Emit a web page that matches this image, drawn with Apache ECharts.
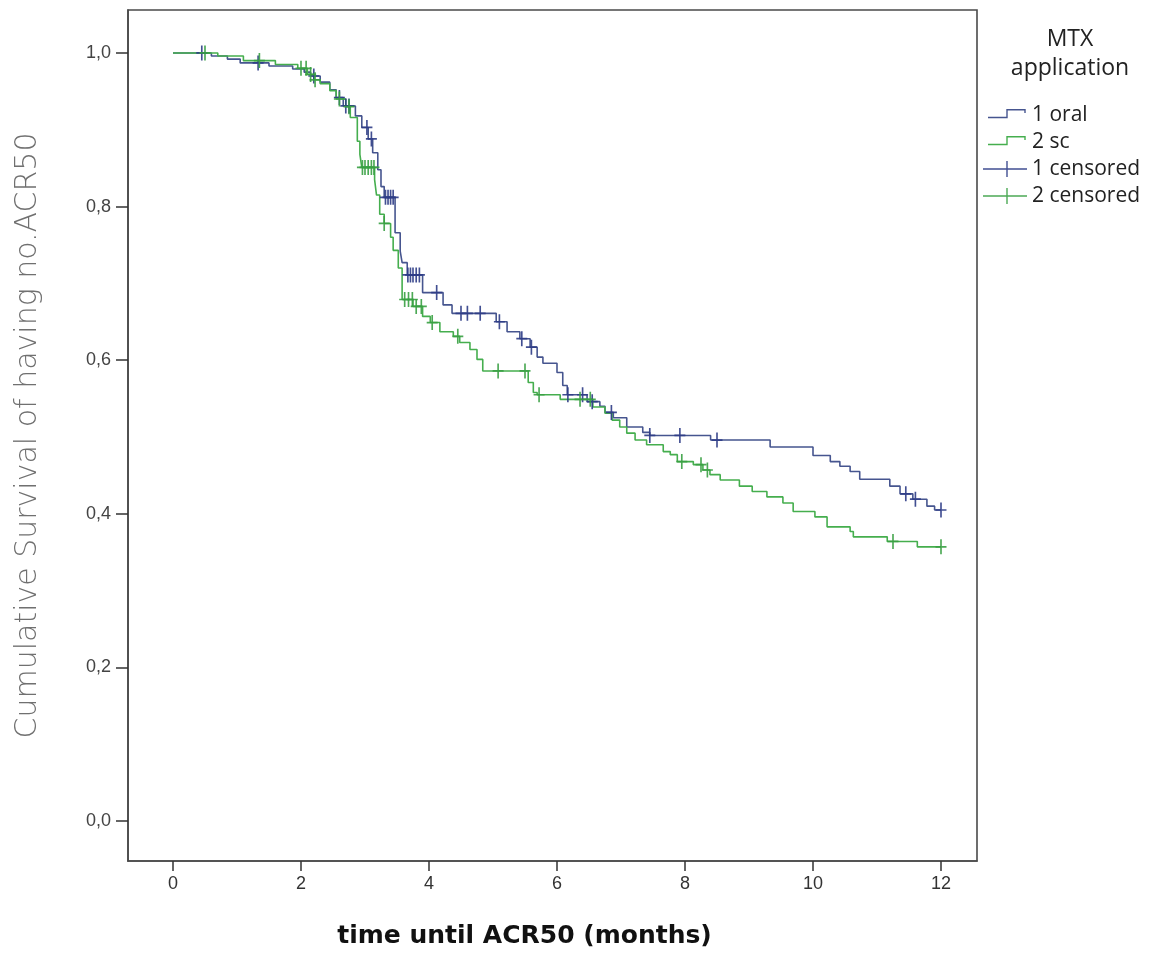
<!DOCTYPE html>
<html>
<head>
<meta charset="utf-8">
<script src="https://cdn.jsdelivr.net/npm/echarts@6/dist/echarts.min.js"></script>
<style>
html,body{margin:0;padding:0;background:#fff;}
#chart{width:1152px;height:956px;}
</style>
</head>
<body>
<div id="chart"></div>
<script>
// ---- Data ----
const xTicks = [0, 2, 4, 6, 8, 10, 12];
const yTicks = [0, 0.2, 0.4, 0.6, 0.8, 1.0];

// 1 oral: event times (months) and survival after each step
const oralTime = [0, 0.6, 0.85, 1.05, 1.5, 1.87, 2.05, 2.15, 2.3, 2.45, 2.55, 2.66, 2.85, 2.95, 3.05, 3.12, 3.2, 3.25, 3.3, 3.47, 3.55, 3.58, 3.66, 3.9, 4.22, 4.36, 5.05, 5.22, 5.42, 5.58, 5.69, 5.78, 6.0, 6.09, 6.16, 6.47, 6.67, 6.75, 6.88, 7.09, 7.34, 7.45, 8.4, 9.33, 10.0, 10.27, 10.42, 10.58, 10.73, 11.2, 11.36, 11.56, 11.78, 11.9];
const oralSurv = [1.0, 0.996, 0.992, 0.987, 0.983, 0.979, 0.975, 0.970, 0.962, 0.952, 0.942, 0.931, 0.918, 0.903, 0.888, 0.870, 0.848, 0.826, 0.812, 0.766, 0.742, 0.727, 0.711, 0.688, 0.672, 0.661, 0.650, 0.637, 0.628, 0.617, 0.604, 0.596, 0.584, 0.567, 0.555, 0.546, 0.540, 0.532, 0.525, 0.513, 0.506, 0.502, 0.496, 0.487, 0.476, 0.468, 0.462, 0.455, 0.445, 0.436, 0.426, 0.419, 0.410, 0.405];
const oralCensored = [0.45, 1.33, 2.2, 2.6, 2.7, 2.75, 3.03, 3.1, 3.32, 3.36, 3.4, 3.44, 3.67, 3.71, 3.75, 3.8, 3.85, 4.12, 4.5, 4.6, 4.8, 5.1, 5.45, 5.6, 6.17, 6.4, 6.55, 6.85, 7.45, 7.92, 8.5, 11.45, 11.6, 12.0];

// 2 sc
const scTime = [0, 0.7, 1.1, 1.6, 1.95, 2.1, 2.2, 2.3, 2.45, 2.55, 2.7, 2.77, 2.88, 2.92, 2.95, 3.15, 3.18, 3.23, 3.3, 3.4, 3.44, 3.52, 3.58, 3.75, 3.9, 4.02, 4.17, 4.38, 4.48, 4.64, 4.75, 4.84, 5.55, 5.63, 5.69, 6.05, 6.56, 6.75, 6.86, 6.98, 7.09, 7.22, 7.4, 7.66, 7.77, 7.88, 8.13, 8.28, 8.39, 8.55, 8.85, 9.05, 9.28, 9.53, 9.69, 10.03, 10.22, 10.58, 10.63, 11.16, 11.63];
const scSurv = [1.0, 0.996, 0.990, 0.985, 0.980, 0.972, 0.965, 0.960, 0.951, 0.940, 0.930, 0.916, 0.885, 0.868, 0.851, 0.835, 0.815, 0.790, 0.778, 0.760, 0.743, 0.720, 0.679, 0.670, 0.657, 0.649, 0.637, 0.631, 0.623, 0.614, 0.601, 0.586, 0.571, 0.558, 0.555, 0.549, 0.539, 0.531, 0.522, 0.513, 0.505, 0.496, 0.490, 0.481, 0.477, 0.468, 0.464, 0.457, 0.451, 0.444, 0.436, 0.429, 0.422, 0.414, 0.403, 0.396, 0.383, 0.377, 0.370, 0.364, 0.357];
const scCensored = [0.5, 1.35, 2.0, 2.08, 2.15, 2.22, 2.6, 2.75, 2.96, 3.0, 3.05, 3.1, 3.14, 3.3, 3.62, 3.68, 3.74, 3.8, 3.88, 4.05, 4.45, 5.08, 5.5, 5.72, 6.36, 6.52, 7.95, 8.25, 8.35, 11.25, 12.0];

const xMax = 12;

// ---- helpers ----
function stepData(T, S) {
  const d = T.map((t, i) => [t, S[i]]);
  d.push([xMax, S[S.length - 1]]);
  return d;
}
function survAt(T, S, t) {
  let s = S[0];
  for (let i = 0; i < T.length; i++) { if (T[i] <= t) s = S[i]; }
  return s;
}
function censData(C, T, S) {
  return C.map(t => [t, survAt(T, S, t)]);
}

const blueLine = '#46558f';
const blueMark = '#2d3c86';
const greenLine = '#45ae4e';
const greenMark = '#38a043';

const crossSym = 'path://M5.1,0L6.9,0L6.9,16L5.1,16Z M0,7.1L12,7.1L12,8.9L0,8.9Z';
const stepIcon = 'path://M0,0L0.01,0L0,0.01Z M44,16L43.99,16L44,15.99Z ' +
  'M5,9.8L24.7,9.8L24.7,11.2L5,11.2Z M23.3,2L24.7,2L24.7,11.2L23.3,11.2Z ' +
  'M23.3,2L42.7,2L42.7,3.4L23.3,3.4Z M41.3,2L42.7,2L42.7,6L41.3,6Z';
const censIcon = 'path://M0,7.3L44,7.3L44,8.7L0,8.7Z M23.3,0L24.7,0L24.7,16L23.3,16Z';

const chart = echarts.init(document.getElementById('chart'), null, {renderer: 'canvas'});

const option = {
  backgroundColor: '#fff',
  animation: false,
  title: {
    text: 'MTX\napplication',
    left: 1065,
    top: 20,
    textAlign: 'center',
    textStyle: {fontFamily: 'Open Sans', fontSize: 23, fontWeight: 'normal', color: '#222', lineHeight: 29}
  },
  legend: {
    orient: 'vertical',
    left: 978,
    top: 99,
    itemWidth: 44,
    itemHeight: 16,
    itemGap: 5,
    itemStyle: {borderWidth: 0},
    textStyle: {fontFamily: 'Open Sans', fontSize: 21, color: '#222', lineHeight: 22, padding: [0, 0, 0, 0]},
    data: [
      {name: '1 oral', icon: stepIcon},
      {name: '2 sc', icon: stepIcon},
      {name: '1 censored', icon: censIcon},
      {name: '2 censored', icon: censIcon}
    ]
  },
  grid: {
    left: 128, right: 175, top: 10, bottom: 94,
    show: true, borderColor: '#4a4a4a', borderWidth: 1.6, backgroundColor: 'transparent'
  },
  xAxis: {
    type: 'value',
    min: -0.703, max: 12.5625,
    axisLine: {show: true, onZero: false, lineStyle: {color: '#4a4a4a', width: 1.6}},
    splitLine: {show: false},
    axisTick: {show: true, length: 10, customValues: xTicks, lineStyle: {color: '#333', width: 1.5}},
    axisLabel: {customValues: xTicks, margin: 14, fontFamily: 'Liberation Sans', fontSize: 18, color: '#333'},
    name: 'time until ACR50 (months)',
    nameLocation: 'middle',
    nameGap: 60,
    nameTextStyle: {fontFamily: 'DejaVu Sans', fontWeight: 'bold', fontSize: 25, color: '#111', lineHeight: 30, padding: [0, 56, 0, 0]}
  },
  yAxis: {
    type: 'value',
    min: -0.052, max: 1.0559,
    axisLine: {show: true, onZero: false, lineStyle: {color: '#4a4a4a', width: 1.6}},
    splitLine: {show: false},
    axisTick: {show: true, length: 12, customValues: yTicks, lineStyle: {color: '#333', width: 1.5}},
    axisLabel: {customValues: yTicks, margin: 17, fontFamily: 'Liberation Sans', fontSize: 18, color: '#444',
      formatter: v => v.toFixed(1).replace('.', ',')},
    name: 'Cumulative Survival of having no.ACR50',
    nameLocation: 'middle',
    nameGap: 84,
    nameTextStyle: {fontFamily: 'DejaVu Sans', fontWeight: 200, fontSize: 30, color: '#707070', lineHeight: 32}
  },
  series: [
    {
      name: '1 oral', type: 'line', step: 'end', symbol: 'none', showSymbol: false,
      data: stepData(oralTime, oralSurv),
      lineStyle: {color: blueLine, width: 1.6},
      itemStyle: {color: blueLine},
      z: 2
    },
    {
      name: '2 sc', type: 'line', step: 'end', symbol: 'none', showSymbol: false,
      data: stepData(scTime, scSurv),
      lineStyle: {color: greenLine, width: 1.6},
      itemStyle: {color: greenLine},
      z: 3
    },
    {
      name: '1 censored', type: 'scatter',
      data: censData(oralCensored, oralTime, oralSurv),
      symbol: crossSym, symbolSize: [11, 15],
      itemStyle: {color: blueMark, opacity: 0.9},
      z: 4
    },
    {
      name: '2 censored', type: 'scatter',
      data: censData(scCensored, scTime, scSurv),
      symbol: crossSym, symbolSize: [11, 15],
      itemStyle: {color: greenMark, opacity: 0.9},
      z: 5
    }
  ]
};
chart.setOption(option);
</script>
</body>
</html>
